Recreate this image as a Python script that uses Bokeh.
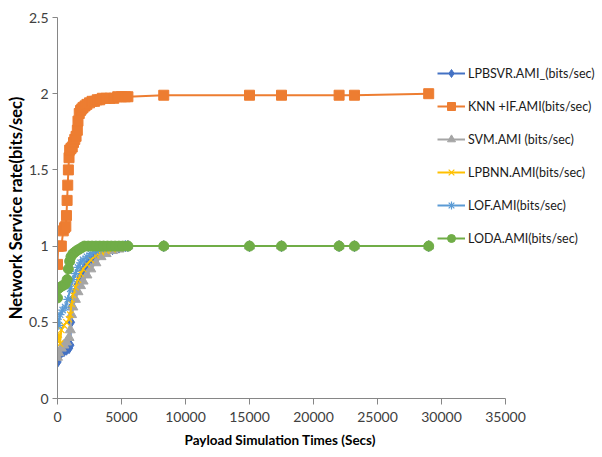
from bokeh.embed import file_html
from bokeh.models import FixedTicker, Legend, LegendItem, NumeralTickFormatter, Title
from bokeh.plotting import figure
from bokeh.resources import INLINE

# payload simulation times (secs) and network service rate (bits/sec)
far_x = [8300, 15000, 17500, 22000, 23200, 29000]

lpbsvr_x = [0, 100, 300, 500, 700, 900, 1000, 1050, 1100, 1200, 1400, 1600, 1800, 2000,
            2300, 2600, 3000, 3400, 3800, 4300, 4800, 5300, 5500] + far_x
lpbsvr_y = [0.24, 0.28, 0.30, 0.31, 0.32, 0.33, 0.35, 0.50, 0.60, 0.65, 0.70, 0.75, 0.80, 0.84,
            0.88, 0.91, 0.94, 0.96, 0.97, 0.98, 0.99, 1.0, 1.0] + [1.0] * 6

knn_x = [0, 50, 150, 300, 450, 550, 650, 700, 750, 800, 850, 900, 950, 1050, 1150, 1250, 1350,
         1450, 1550, 1600, 1700, 1800, 1900, 2000, 2150, 2300, 2500, 2700, 2900, 3100, 3300,
         3500, 3800, 4100, 4400, 4700, 5000, 5300, 5500] + far_x
knn_y = [0.88, 1.0, 1.0, 1.0, 1.10, 1.12, 1.13, 1.20, 1.30, 1.40, 1.50, 1.58, 1.63, 1.64, 1.65,
         1.68, 1.70, 1.72, 1.76, 1.82, 1.87, 1.89, 1.90, 1.91, 1.92, 1.93, 1.94, 1.95, 1.95,
         1.96, 1.96, 1.97, 1.97, 1.97, 1.97, 1.98, 1.98, 1.98, 1.98] + [1.99, 1.99, 1.99, 1.99, 1.99, 2.0]

svm_x = [0, 100, 300, 500, 700, 900, 1000, 1100, 1200, 1400, 1600, 1800, 2000, 2300, 2600,
         3000, 3400, 3800, 4300, 4800, 5300, 5500] + far_x
svm_y = [0.27, 0.30, 0.33, 0.35, 0.37, 0.40, 0.45, 0.55, 0.60, 0.65, 0.70, 0.74, 0.77, 0.81,
         0.85, 0.89, 0.93, 0.95, 0.97, 0.98, 0.99, 1.0] + [1.0] * 6

lpbnn_x = [0, 100, 200, 300, 500, 700, 900, 1000, 1100, 1200, 1400, 1600, 1800, 2000, 2300,
           2600, 3000, 3400, 3800, 4300, 4800, 5300, 5500] + far_x
lpbnn_y = [0.38, 0.42, 0.36, 0.45, 0.48, 0.50, 0.52, 0.55, 0.62, 0.68, 0.73, 0.78, 0.82, 0.85,
           0.88, 0.91, 0.94, 0.96, 0.97, 0.98, 0.99, 1.0, 1.0] + [1.0] * 6

lof_x = [0, 100, 200, 400, 600, 800, 1000, 1200, 1400, 1600, 1800, 2000, 2300, 2600, 3000,
         3400, 3800, 4300, 4800, 5300, 5500] + far_x
lof_y = [0.52, 0.48, 0.55, 0.58, 0.60, 0.65, 0.72, 0.78, 0.82, 0.86, 0.89, 0.91, 0.93, 0.95,
         0.97, 0.98, 0.99, 1.0, 1.0, 1.0, 1.0] + [1.0] * 6

loda_x = [0, 50, 200, 400, 600, 750, 850, 950, 1050, 1200, 1350, 1500, 1700, 1900, 2100,
          2400, 2700, 3000, 3300, 3600, 3900, 4200, 4500, 4800, 5100, 5500] + far_x
loda_y = [0.66, 0.72, 0.73, 0.74, 0.75, 0.78, 0.85, 0.90, 0.93, 0.95, 0.96, 0.97, 0.98, 0.99,
          1.0, 1.0, 1.0, 1.0, 1.0, 1.0, 1.0, 1.0, 1.0, 1.0, 1.0, 1.0] + [1.0] * 6

series = [
    ("LPBSVR.AMI_(bits/sec)", lpbsvr_x, lpbsvr_y, "#4472C4", "diamond", 11),
    ("KNN +IF.AMI(bits/sec)", knn_x, knn_y, "#ED7D31", "square", 10),
    ("SVM.AMI (bits/sec)", svm_x, svm_y, "#A5A5A5", "triangle", 10),
    ("LPBNN.AMI(bits/sec)", lpbnn_x, lpbnn_y, "#FFC000", "x", 9),
    ("LOF.AMI(bits/sec)", lof_x, lof_y, "#5B9BD5", "asterisk", 9),
    ("LODA.AMI(bits/sec)", loda_x, loda_y, "#70AD47", "circle", 10),
]

FONT = "Lato"

# frame runs to the right edge so the legend can sit over it; x axis stops at 35000
p = figure(width=602, height=457, x_range=(0, 42578), y_range=(0, 2.5),
           output_backend="svg", toolbar_location=None, tools="",
           min_border_left=57, min_border_right=0, min_border_top=17, min_border_bottom=59)
p.outline_line_color = None
p.xgrid.grid_line_color = None
p.ygrid.grid_line_color = None

items = []
for name, xs, ys, color, marker, size in series:
    ln = p.line(xs, ys, line_color=color, line_width=2)
    if marker in ("x", "asterisk"):
        sc = p.scatter(xs, ys, marker=marker, size=size, line_color=color, line_width=1.2)
    else:
        sc = p.scatter(xs, ys, marker=marker, size=size, fill_color=color, line_color=color)
    items.append(LegendItem(label=name, renderers=[ln, sc]))

legend = Legend(items=items, location=(380, 150), padding=0, margin=0, spacing=13,
                glyph_width=28, glyph_height=20, label_height=20, label_standoff=3,
                border_line_color=None, background_fill_alpha=0,
                label_text_font=FONT, label_text_font_size="12.5px", label_text_color="#1a1a1a")
p.add_layout(legend, "center")

for ax in (p.xaxis[0], p.yaxis[0]):
    ax.axis_line_color = "#868686"
    ax.major_tick_line_color = "#868686"
    ax.minor_tick_line_color = None
    ax.major_tick_in = 0
    ax.major_label_text_font = FONT
    ax.major_label_text_font_size = "14px"
    ax.major_label_text_color = "#404040"

p.xaxis.bounds = (0, 35000)
p.yaxis.bounds = (0, 2.5)
p.xaxis.ticker = FixedTicker(ticks=[0, 5000, 10000, 15000, 20000, 25000, 30000, 35000])
p.yaxis.ticker = FixedTicker(ticks=[0, 0.5, 1, 1.5, 2, 2.5])
p.yaxis.formatter = NumeralTickFormatter(format="0.[0]")
p.xaxis.major_tick_out = 6
p.yaxis.major_tick_out = 5
p.xaxis.major_label_standoff = 7
p.yaxis.major_label_standoff = 4

p.yaxis.axis_label = "Network Service rate(bits/sec)"
p.yaxis.axis_label_text_font = FONT
p.yaxis.axis_label_text_font_style = "bold"
p.yaxis.axis_label_text_font_size = "16.5px"
p.yaxis.axis_label_text_color = "#000000"
p.yaxis.axis_label_standoff = 0

# x title centred under the axis (0..35000), not under the wider frame
xtitle = Title(text="Payload Simulation Times (Secs)", align="left", offset=127,
               text_font=FONT, text_font_style="bold", text_font_size="13.5px",
               text_color="#000000", standoff=10)
p.add_layout(xtitle, "below")

open("out.html", "w").write(file_html(p, INLINE))
